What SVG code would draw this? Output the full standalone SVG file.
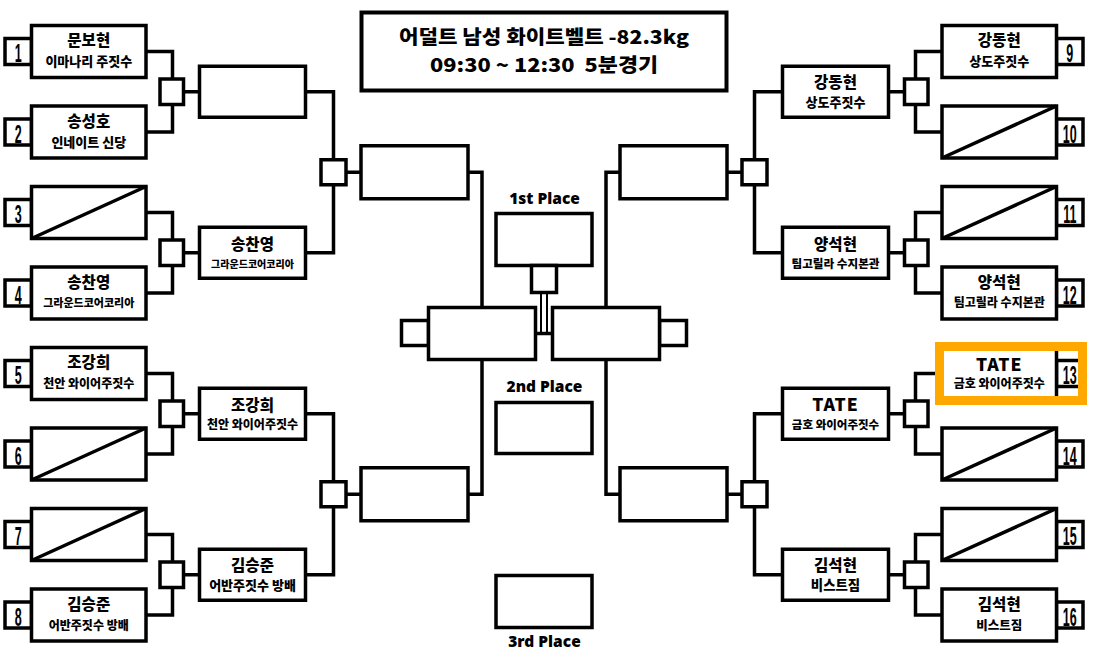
<svg xmlns="http://www.w3.org/2000/svg" width="1094" height="666" viewBox="0 0 1094 666">
<style>
.box{fill:#fff;stroke:#000;stroke-width:3.5}
.ln{fill:none;stroke:#000;stroke-width:3.5}
.t{font-family:"Noto Sans CJK KR","Noto Sans",sans-serif;font-weight:900;text-anchor:middle;fill:#000}
.nm{font-size:15.5px}
.num{font-family:"Liberation Sans",sans-serif;font-weight:bold;font-size:25px;text-anchor:middle}
.pl{font-family:"Noto Sans","Liberation Sans",sans-serif;font-weight:900;font-size:15.5px;text-anchor:middle}
</style>
<rect width="1094" height="666" fill="#fff"/>
<g id="connectors">
<path class="ln" d="M146,51.5H172.5V79M146,132H172.5V104.5M183.5,91.75H199.5"/>
<path class="ln" d="M146,212.5H172.5V240M146,293H172.5V265.5M183.5,252.75H199.5"/>
<path class="ln" d="M146,373.5H172.5V401M146,454H172.5V426.5M183.5,413.75H199.5"/>
<path class="ln" d="M146,534.5H172.5V562M146,615H172.5V587.5M183.5,574.75H199.5"/>
<path class="ln" d="M305.5,91.75H333.5V159.75M305.5,252.75H333.5V184.75M346,172.25H361"/>
<path class="ln" d="M305.5,413.75H333.5V481.75M305.5,574.75H333.5V506.75M346,494.25H361"/>
<path class="ln" d="M468,172.25H482V307.5M468,494.25H482V359.5"/>
<path class="ln" d="M942,51.5H915.5V79M942,132H915.5V104.5M904.5,91.75H888.5"/>
<path class="ln" d="M942,212.5H915.5V240M942,293H915.5V265.5M904.5,252.75H888.5"/>
<path class="ln" d="M942,373.5H915.5V401M942,454H915.5V426.5M904.5,413.75H888.5"/>
<path class="ln" d="M942,534.5H915.5V562M942,615H915.5V587.5M904.5,574.75H888.5"/>
<path class="ln" d="M782.5,91.75H754.5V159.75M782.5,252.75H754.5V184.75M742,172.25H727"/>
<path class="ln" d="M782.5,413.75H754.5V481.75M782.5,574.75H754.5V506.75M742,494.25H727"/>
<path class="ln" d="M620,172.25H606V307.5M620,494.25H606V359.5"/>
<path class="ln" d="M535.5,333.5H552.5"/>
<path fill="none" stroke="#000" stroke-width="2" d="M541,292.5V333.5M547,292.5V333.5"/>
</g>
<g id="title">
<rect class="box" x="361.5" y="12.5" width="365" height="78" style="stroke-width:4"/>
<text class="t" x="544" y="44" font-size="19" textLength="290" lengthAdjust="spacingAndGlyphs">어덜트 남성 화이트벨트 -82.3kg</text>
<text class="t" x="544" y="72" font-size="19" textLength="228" lengthAdjust="spacingAndGlyphs" xml:space="preserve">09:30 ~ 12:30  5분경기</text>
</g>
<g id="p1"><rect class="box" x="5" y="38.5" width="26.5" height="26"/><rect class="box" x="31.5" y="25.5" width="114.5" height="52"/><text class="num" transform="translate(18.25,62) scale(0.5,1)">1</text><text class="t nm" x="88.75" y="46">문보현</text><text class="t" x="88.75" y="66" font-size="13">이마나리 주짓수</text></g>
<g id="p2"><rect class="box" x="5" y="119" width="26.5" height="26"/><rect class="box" x="31.5" y="106" width="114.5" height="52"/><text class="num" transform="translate(18.25,142.5) scale(0.5,1)">2</text><text class="t nm" x="88.75" y="126.5">송성호</text><text class="t" x="88.75" y="146.5" font-size="13">인네이트 신당</text></g>
<g id="p3"><rect class="box" x="5" y="199.5" width="26.5" height="26"/><rect class="box" x="31.5" y="186.5" width="114.5" height="52"/><path class="ln" d="M31.5,238.5L146,186.5"/><text class="num" transform="translate(18.25,223) scale(0.5,1)">3</text></g>
<g id="p4"><rect class="box" x="5" y="280" width="26.5" height="26"/><rect class="box" x="31.5" y="267" width="114.5" height="52"/><text class="num" transform="translate(18.25,303.5) scale(0.5,1)">4</text><text class="t nm" x="88.75" y="287.5">송찬영</text><text class="t" x="88.75" y="307" font-size="11">그라운드코어코리아</text></g>
<g id="p5"><rect class="box" x="5" y="360.5" width="26.5" height="26"/><rect class="box" x="31.5" y="347.5" width="114.5" height="52"/><text class="num" transform="translate(18.25,384) scale(0.5,1)">5</text><text class="t nm" x="88.75" y="368">조강희</text><text class="t" x="88.75" y="388" font-size="12">천안 와이어주짓수</text></g>
<g id="p6"><rect class="box" x="5" y="441" width="26.5" height="26"/><rect class="box" x="31.5" y="428" width="114.5" height="52"/><path class="ln" d="M31.5,480L146,428"/><text class="num" transform="translate(18.25,464.5) scale(0.5,1)">6</text></g>
<g id="p7"><rect class="box" x="5" y="521.5" width="26.5" height="26"/><rect class="box" x="31.5" y="508.5" width="114.5" height="52"/><path class="ln" d="M31.5,560.5L146,508.5"/><text class="num" transform="translate(18.25,545) scale(0.5,1)">7</text></g>
<g id="p8"><rect class="box" x="5" y="602" width="26.5" height="26"/><rect class="box" x="31.5" y="589" width="114.5" height="52"/><text class="num" transform="translate(18.25,625.5) scale(0.5,1)">8</text><text class="t nm" x="88.75" y="609.5">김승준</text><text class="t" x="88.75" y="629.5" font-size="12">어반주짓수 방배</text></g>
<g id="p9"><rect class="box" x="1056.5" y="38.5" width="26.5" height="26"/><rect class="box" x="942" y="25.5" width="114.5" height="52"/><text class="num" transform="translate(1069.75,62) scale(0.5,1)">9</text><text class="t nm" x="999.25" y="46">강동현</text><text class="t" x="999.25" y="66" font-size="13">상도주짓수</text></g>
<g id="p10"><rect class="box" x="1056.5" y="119" width="26.5" height="26"/><rect class="box" x="942" y="106" width="114.5" height="52"/><path class="ln" d="M942,158L1056.5,106"/><text class="num" transform="translate(1069.75,142.5) scale(0.5,1)">10</text></g>
<g id="p11"><rect class="box" x="1056.5" y="199.5" width="26.5" height="26"/><rect class="box" x="942" y="186.5" width="114.5" height="52"/><path class="ln" d="M942,238.5L1056.5,186.5"/><text class="num" transform="translate(1069.75,223) scale(0.5,1)">11</text></g>
<g id="p12"><rect class="box" x="1056.5" y="280" width="26.5" height="26"/><rect class="box" x="942" y="267" width="114.5" height="52"/><text class="num" transform="translate(1069.75,303.5) scale(0.5,1)">12</text><text class="t nm" x="999.25" y="287.5">양석현</text><text class="t" x="999.25" y="307" font-size="12">팀고릴라 수지본관</text></g>
<g id="p13"><rect class="box" x="1056.5" y="360.5" width="26.5" height="26"/><rect class="box" x="942" y="347.5" width="114.5" height="52"/><text class="num" transform="translate(1069.75,384) scale(0.5,1)">13</text><text class="t" x="999.25" y="370.5" font-size="17.5" letter-spacing="1">TATE</text><text class="t" x="999.25" y="388" font-size="12">금호 와이어주짓수</text><rect x="939.5" y="346.5" width="143" height="54" fill="none" stroke="#FFA800" stroke-width="9"/></g>
<g id="p14"><rect class="box" x="1056.5" y="441" width="26.5" height="26"/><rect class="box" x="942" y="428" width="114.5" height="52"/><path class="ln" d="M942,480L1056.5,428"/><text class="num" transform="translate(1069.75,464.5) scale(0.5,1)">14</text></g>
<g id="p15"><rect class="box" x="1056.5" y="521.5" width="26.5" height="26"/><rect class="box" x="942" y="508.5" width="114.5" height="52"/><path class="ln" d="M942,560.5L1056.5,508.5"/><text class="num" transform="translate(1069.75,545) scale(0.5,1)">15</text></g>
<g id="p16"><rect class="box" x="1056.5" y="602" width="26.5" height="26"/><rect class="box" x="942" y="589" width="114.5" height="52"/><text class="num" transform="translate(1069.75,625.5) scale(0.5,1)">16</text><text class="t nm" x="999.25" y="609.5">김석현</text><text class="t" x="999.25" y="629.5" font-size="12.5">비스트짐</text></g>
<g id="sq-r1"><rect class="box" x="160" y="79" width="23.5" height="25.5"/><rect class="box" x="160" y="240" width="23.5" height="25.5"/><rect class="box" x="160" y="401" width="23.5" height="25.5"/><rect class="box" x="160" y="562" width="23.5" height="25.5"/><rect class="box" x="904.5" y="79" width="23.5" height="25.5"/><rect class="box" x="904.5" y="240" width="23.5" height="25.5"/><rect class="box" x="904.5" y="401" width="23.5" height="25.5"/><rect class="box" x="904.5" y="562" width="23.5" height="25.5"/></g>
<g id="l-r2a"><rect class="box" x="199.5" y="66.25" width="106" height="51"/></g>
<g id="l-r2b"><rect class="box" x="199.5" y="227.25" width="106" height="51"/><text class="t nm" x="252.5" y="249.5">송찬영</text><text class="t" x="252.5" y="267.5" font-size="10">그라운드코어코리아</text></g>
<g id="l-r2c"><rect class="box" x="199.5" y="388.25" width="106" height="51"/><text class="t nm" x="252.5" y="410.5">조강희</text><text class="t" x="252.5" y="428.5" font-size="12">천안 와이어주짓수</text></g>
<g id="l-r2d"><rect class="box" x="199.5" y="549.25" width="106" height="51"/><text class="t nm" x="252.5" y="571">김승준</text><text class="t" x="252.5" y="590" font-size="13">어반주짓수 방배</text></g>
<g id="r-r2a"><rect class="box" x="782.5" y="66.25" width="106" height="51"/><text class="t nm" x="835.5" y="88">강동현</text><text class="t" x="835.5" y="107" font-size="13">상도주짓수</text></g>
<g id="r-r2b"><rect class="box" x="782.5" y="227.25" width="106" height="51"/><text class="t nm" x="835.5" y="249.5">양석현</text><text class="t" x="835.5" y="267.5" font-size="11.6">팀고릴라 수지본관</text></g>
<g id="r-r2c"><rect class="box" x="782.5" y="388.25" width="106" height="51"/><text class="t" x="835.5" y="410.5" font-size="17.5" letter-spacing="1">TATE</text><text class="t" x="835.5" y="428.5" font-size="11.5">금호 와이어주짓수</text></g>
<g id="r-r2d"><rect class="box" x="782.5" y="549.25" width="106" height="51"/><text class="t nm" x="835.5" y="571">김석현</text><text class="t" x="835.5" y="590" font-size="13.4">비스트짐</text></g>
<g id="sq-r3"><rect class="box" x="321" y="159.75" width="25" height="25"/><rect class="box" x="321" y="481.75" width="25" height="25"/><rect class="box" x="742" y="159.75" width="25" height="25"/><rect class="box" x="742" y="481.75" width="25" height="25"/></g>
<g id="l-r3a"><rect class="box" x="361" y="145.75" width="107" height="53"/></g>
<g id="l-r3b"><rect class="box" x="361" y="467.75" width="107" height="53"/></g>
<g id="r-r3a"><rect class="box" x="620" y="145.75" width="107" height="53"/></g>
<g id="r-r3b"><rect class="box" x="620" y="467.75" width="107" height="53"/></g>
<g id="final-left"><rect class="box" x="401.5" y="320.5" width="27" height="25"/><rect class="box" x="428.5" y="307.5" width="107" height="52"/></g>
<g id="final-right"><rect class="box" x="659.5" y="320.5" width="27" height="25"/><rect class="box" x="552.5" y="307.5" width="107" height="52"/></g>
<g id="first"><text class="pl" x="544.5" y="204">1st Place</text><rect class="box" x="496" y="213.5" width="96" height="52"/><rect class="box" x="531.5" y="265.5" width="25" height="27"/></g>
<g id="second"><text class="pl" x="544.5" y="392">2nd Place</text><rect class="box" x="496" y="402.5" width="96" height="51"/></g>
<g id="third"><rect class="box" x="496" y="575.5" width="96" height="52"/><text class="pl" x="544.5" y="647">3rd Place</text></g>
</svg>
